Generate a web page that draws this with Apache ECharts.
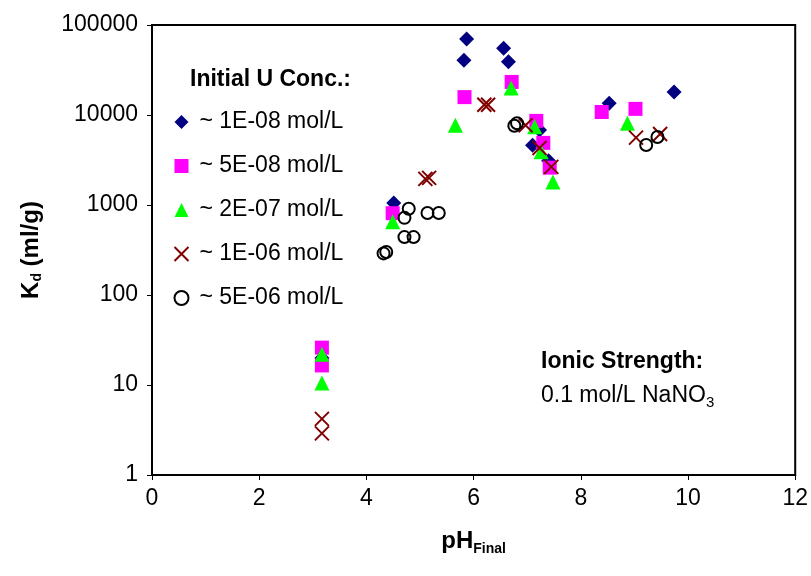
<!DOCTYPE html>
<html lang="en">
<head>
    <meta charset="UTF-8">
    <title>Kd vs pH</title>
    <script src="https://cdn.jsdelivr.net/npm/echarts@6/dist/echarts.min.js" type="text/javascript"></script>
    <style>
        html, body { margin: 0; padding: 0; background: #fff; }
    </style>
</head>
<body>
<div id="kd" style="width: 811px;height:576px;"></div>
</body>

<script type="text/javascript">
    var FONT = '"Liberation Sans", Arial, sans-serif';

    var xTicks = [0, 2, 4, 6, 8, 10, 12];
    var yTicks = [1, 10, 100, 1000, 10000, 100000];

    var names = ['~ 1E-08 mol/L', '~ 5E-08 mol/L', '~ 2E-07 mol/L', '~ 1E-06 mol/L', '~ 5E-06 mol/L'];

    // ~1E-08 mol/L
    var ph1 = [3.17, 4.51, 5.82, 5.87, 6.56, 6.65, 7.10, 7.23, 7.40, 8.53, 9.74];
    var kd1 = [20, 1050, 40500, 70000, 55000, 39000, 4600, 6800, 3100, 13500, 18000];
    // ~5E-08 mol/L
    var ph2 = [3.17, 3.17, 4.49, 5.83, 6.71, 7.17, 7.30, 7.42, 8.39, 9.02];
    var kd2 = [26, 16.5, 810, 15800, 23300, 8600, 4900, 2600, 10800, 11700];
    // ~2E-07 mol/L
    var ph3 = [3.17, 3.17, 4.49, 5.66, 6.70, 7.14, 7.26, 7.48, 8.87];
    var kd3 = [22, 10.5, 650, 7700, 20000, 7400, 3900, 1800, 8100];
    // ~1E-06 mol/L
    var ph4 = [3.17, 3.17, 5.10, 5.17, 6.20, 6.27, 6.97, 7.23, 7.45, 9.03, 9.48];
    var kd4 = [4.2, 2.9, 1950, 2000, 13000, 13000, 7700, 4300, 2650, 5600, 6150];
    // ~5E-06 mol/L
    var ph5 = [4.32, 4.37, 4.71, 4.79, 4.71, 4.88, 5.14, 5.35, 6.76, 6.81, 9.22, 9.43];
    var kd5 = [290, 300, 720, 910, 440, 440, 815, 815, 7600, 8100, 4650, 5700];

    function pairs(xs, ys) {
        return xs.map(function (x, i) { return [x, ys[i]]; });
    }

    var kd = echarts.init(document.getElementById('kd'));

    kd.setOption({
        animation: false,
        textStyle: { fontFamily: FONT },
        grid: {
            left: 152, right: 15, top: 25, bottom: 101,
            show: true, borderColor: '#000', borderWidth: 2
        },
        title: {
            text: 'Initial U Conc.:',
            left: 185, top: 63,
            textStyle: { fontFamily: FONT, fontSize: 23, fontWeight: 'bold', color: '#000' }
        },
        legend: {
            data: names,
            orient: 'vertical',
            left: 167, top: 104,
            itemWidth: 14, itemHeight: 14, itemGap: 18,
            textStyle: { fontFamily: FONT, fontSize: 23, color: '#000', lineHeight: 26, padding: [0, 0, 0, 6] }
        },
        xAxis: {
            type: 'value',
            min: 0, max: 12, interval: 2,
            name: '{b|pH}{s|Final}',
            nameLocation: 'middle',
            nameGap: 51,
            nameTextStyle: {
                rich: {
                    b: { fontFamily: FONT, fontSize: 24, fontWeight: 'bold', color: '#000' },
                    s: { fontFamily: FONT, fontSize: 14, fontWeight: 'bold', color: '#000', padding: [16, 0, 0, 0] }
                }
            },
            axisLine: { lineStyle: { color: '#000', width: 2 } },
            axisTick: { inside: false, length: 5, lineStyle: { color: '#000' } },
            axisLabel: { fontFamily: FONT, fontSize: 23, color: '#000', margin: 12 },
            splitLine: { show: false }
        },
        yAxis: {
            type: 'log',
            logBase: 10,
            min: 1, max: 100000,
            name: '{b|K}{s|d}{b| (ml/g)}',
            nameLocation: 'middle',
            nameGap: 108,
            nameRotate: 90,
            nameTextStyle: {
                rich: {
                    b: { fontFamily: FONT, fontSize: 24, fontWeight: 'bold', color: '#000' },
                    s: { fontFamily: FONT, fontSize: 14, fontWeight: 'bold', color: '#000', padding: [12, 0, 0, 0] }
                }
            },
            axisLine: { lineStyle: { color: '#000', width: 2 } },
            axisTick: { inside: false, length: 5, lineStyle: { color: '#000' } },
            axisLabel: {
                fontFamily: FONT, fontSize: 23, color: '#000', margin: 14,
                formatter: function (v) { return String(Math.round(v)); }
            },
            splitLine: { show: false }
        },
        graphic: [{
            type: 'text',
            left: 541, top: 350,
            style: {
                text: '{b|Ionic Strength:}\n{n|0.1 mol/L NaNO}{s|3}',
                rich: {
                    b: { fontFamily: FONT, fontSize: 23, fontWeight: 'bold', fill: '#000', lineHeight: 34 },
                    n: { fontFamily: FONT, fontSize: 23, fill: '#000', lineHeight: 34 },
                    s: { fontFamily: FONT, fontSize: 15, fill: '#000', padding: [14, 0, 0, 0] }
                }
            }
        }],
        series: [
            {
                name: names[0], type: 'scatter',
                symbol: 'path://M0,-1L1,0L0,1L-1,0Z', symbolSize: 15,
                itemStyle: { color: '#000080', opacity: 1 },
                data: pairs(ph1, kd1)
            },
            {
                name: names[1], type: 'scatter',
                symbol: 'rect', symbolSize: 14,
                itemStyle: { color: '#ff00ff', opacity: 1 },
                data: pairs(ph2, kd2)
            },
            {
                name: names[2], type: 'scatter',
                symbol: 'triangle', symbolSize: [15, 15],
                itemStyle: { color: '#00ff00', opacity: 1 },
                data: pairs(ph3, kd3)
            },
            {
                name: names[3], type: 'scatter',
                symbol: 'path://M0,0L10,10M10,0L0,10', symbolSize: 14,
                itemStyle: { color: 'none', borderColor: '#800000', borderWidth: 2, opacity: 1 },
                data: pairs(ph4, kd4)
            },
            {
                name: names[4], type: 'scatter',
                symbol: 'circle', symbolSize: 12,
                itemStyle: { color: 'none', borderColor: '#000', borderWidth: 2, opacity: 1 },
                data: pairs(ph5, kd5)
            }
        ]
    });
</script>
</html>
